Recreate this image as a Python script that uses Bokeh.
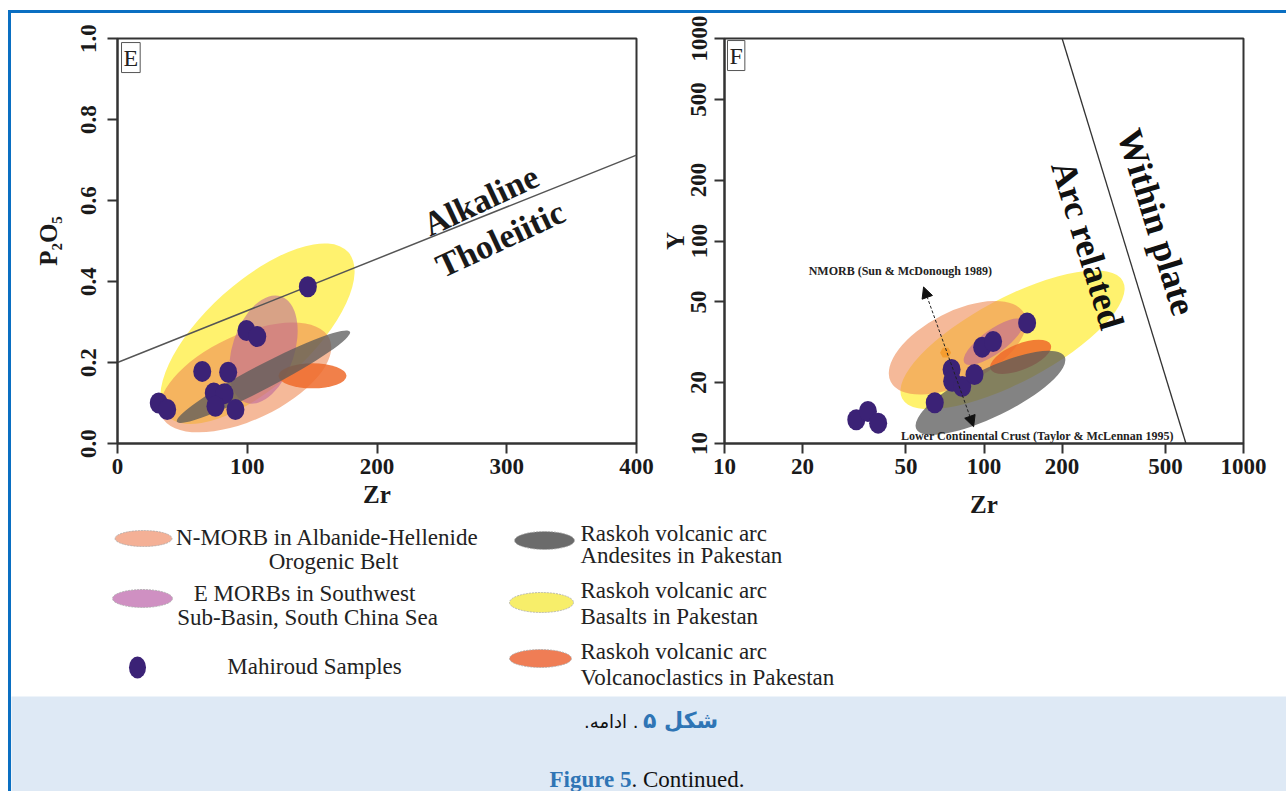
import math
from bokeh.plotting import figure
from bokeh.models import Range1d, FixedTicker, PrintfTickFormatter, Label, Arrow, NormalHead, Div
from bokeh.layouts import row, column
from bokeh.core.properties import value
from bokeh.embed import file_html
from bokeh.resources import INLINE

# ---------------- data: panel E (Zr vs P2O5) ----------------
E_zr = [31.8, 38.3, 65.3, 85.3, 74.2, 82.5, 75.5, 90.9, 99.4, 107.7, 146.7]
E_p2o5 = [0.100, 0.084, 0.178, 0.176, 0.125, 0.123, 0.092, 0.084, 0.279, 0.264, 0.387]
E_div_zr = [0, 400]
E_div_p2o5 = [0.2, 0.712]
# field centres (data) for: Basalts, N-MORB, E-MORB, Volcanoclastics, Andesites
E_field_zr = [107.9, 98.7, 112.5, 150.3, 112.5]
E_field_p2o5 = [0.271, 0.163, 0.232, 0.167, 0.165]
E_xticks = [0, 100, 200, 300, 400]
E_yticks = [0.0, 0.2, 0.4, 0.6, 0.8, 1.0]

# ---------------- data: panel F (Zr vs Y, log-log) ----------------
F_zr = [32.2, 35.7, 39.1, 64.6, 75.0, 75.4, 82.4, 91.9, 98.4, 108.4, 146.6]
F_y = [13.1, 14.4, 12.6, 15.9, 23.2, 20.3, 19.1, 21.9, 29.9, 31.9, 39.4]
F_div_zr = [200, 600]
F_div_y = [1000, 10]
F_field_zr = [128.8, 79.1, 108.9, 138.4, 105.9]
F_field_y = [32.5, 29.7, 31.8, 26.8, 17.8]
F_nmorb_zr = [71.1]
F_nmorb_y = [28.1]
F_ticks = [10, 20, 50, 100, 200, 500, 1000]

field_names = ["Raskoh volcanic arc Basalts", "N-MORB", "E MORBs", "Raskoh volcanic arc Volcanoclastics", "Raskoh volcanic arc Andesites"]

# ---------------- styles ----------------
field_colors = ["#fff05a", "#ee8a55", "#b8609a", "#ee6a2a", "#5a5a5a"]
field_alpha = [0.88, 0.6, 0.55, 0.85, 0.75]
E_field_w = [244, 185, 112, 68, 195]
E_field_h = [104, 85, 62, 25, 24]
E_field_ang = [42, 25, 72, 0, 27.5]
F_field_w = [250, 150, 72, 65, 165]
F_field_h = [84, 72, 24, 26, 48]
F_field_ang = [28, 27, 36, 22, 26]
PURPLE = "#3b2276"
SERIF = "Liberation Serif"
AXC = "#333333"


def style(p):
    p.xgrid.visible = False
    p.ygrid.visible = False
    p.outline_line_color = AXC
    p.outline_line_width = 2
    p.background_fill_color = "white"
    p.border_fill_color = "white"
    for ax in p.axis:
        ax.axis_line_color = AXC
        ax.axis_line_width = 2
        ax.major_tick_line_color = AXC
        ax.major_tick_line_width = 2
        ax.major_tick_out = 10
        ax.major_tick_in = 0
        ax.minor_tick_line_color = None
        ax.major_label_text_font = SERIF
        ax.major_label_text_font_style = "bold"
        ax.major_label_text_font_size = "23px"
        ax.major_label_text_color = "#1a1a1a"
        ax.axis_label_text_font = SERIF
        ax.axis_label_text_font_style = "bold"
        ax.axis_label_text_font_size = "25px"
        ax.axis_label_text_color = "#1a1a1a"


def draw_fields(p, xs, ys, ws, hs, angs):
    for i in range(len(xs)):
        p.ellipse(x=[xs[i]], y=[ys[i]], width=[ws[i]], height=[hs[i]],
                  angle=[math.radians(angs[i])], width_units="screen", height_units="screen",
                  fill_color=field_colors[i], fill_alpha=field_alpha[i], line_color=None)


# ---------------- panel E ----------------
pE = figure(width=646, height=507, x_range=Range1d(0, 400), y_range=Range1d(0, 1),
            output_backend="svg", toolbar_location=None,
            min_border_left=106, min_border_right=21, min_border_top=25, min_border_bottom=76)
style(pE)
pE.xaxis.ticker = FixedTicker(ticks=E_xticks)
pE.yaxis.ticker = FixedTicker(ticks=E_yticks)
pE.yaxis.formatter = PrintfTickFormatter(format="%.1f")
pE.yaxis.major_label_orientation = "vertical"
pE.xaxis.major_label_standoff = 5
pE.yaxis.major_label_standoff = 12
pE.xaxis.axis_label = "Zr"
pE.yaxis.axis_label = "P₂O₅"
pE.xaxis.axis_label_standoff = 4
pE.yaxis.axis_label_standoff = 16

draw_fields(pE, E_field_zr, E_field_p2o5, E_field_w, E_field_h, E_field_ang)
pE.line(E_div_zr, E_div_p2o5, line_color="#555555", line_width=1.5)
pE.ellipse(x=E_zr, y=E_p2o5, width=18, height=21, width_units="screen", height_units="screen",
           fill_color=PURPLE, line_color=None)
for txt, xx, yy in [("Alkaline", 280, 0.600), ("Tholeiitic", 295, 0.505)]:
    pE.text(x=[xx], y=[yy], text=[txt], angle=math.radians(25), text_align="center",
            text_baseline="middle", text_font=value(SERIF), text_font_style="bold",
            text_font_size="34px", text_color="#1a1a1a")
pE.add_layout(Label(x=3.1, y=0.99, text="E", text_align="left", text_baseline="top",
                    text_font=SERIF, text_font_size="24px", text_color="#222",
                    border_line_color="#555", border_line_width=1, padding=2,
                    background_fill_color="white"))

# ---------------- panel F ----------------
pF = figure(width=629, height=507, x_range=Range1d(10, 1000), y_range=Range1d(10, 1000),
            x_axis_type="log", y_axis_type="log",
            output_backend="svg", toolbar_location=None,
            min_border_left=67, min_border_right=43, min_border_top=25, min_border_bottom=76)
style(pF)
pF.xaxis.ticker = FixedTicker(ticks=F_ticks)
pF.yaxis.ticker = FixedTicker(ticks=F_ticks)
pF.xaxis.formatter = PrintfTickFormatter(format="%d")
pF.yaxis.formatter = PrintfTickFormatter(format="%d")
pF.yaxis.major_label_orientation = "vertical"
pF.xaxis.major_label_standoff = 5
pF.yaxis.major_label_standoff = 8
pF.xaxis.axis_label = "Zr"
pF.yaxis.axis_label = "Y"
pF.xaxis.axis_label_standoff = 14
pF.yaxis.axis_label_standoff = 0

draw_fields(pF, F_field_zr, F_field_y, F_field_w, F_field_h, F_field_ang)
pF.line(F_div_zr, F_div_y, line_color="#333333", line_width=1.3)
pF.ellipse(x=F_zr, y=F_y, width=18, height=21, width_units="screen", height_units="screen",
           fill_color=PURPLE, line_color=None)
pF.scatter(x=F_nmorb_zr, y=F_nmorb_y, marker="hex", size=11, fill_color="#f59a2a",
           fill_alpha=0.9, line_color=None)
pF.add_layout(Arrow(x_start=58.5, y_start=59.3, x_end=91.2, y_end=12.1,
                    line_dash="3 2", line_width=1, line_color="#222",
                    start=NormalHead(size=11, fill_color="#111", line_color="#111"),
                    end=NormalHead(size=11, fill_color="#111", line_color="#111")))
pF.text(x=[47.6], y=[71.1], text=["NMORB (Sun & McDonough 1989)"], text_align="center",
        text_baseline="middle", text_font=value(SERIF), text_font_style="bold",
        text_font_size="12px", text_color="#222")
pF.text(x=[160.6], y=[10.83], text=["Lower Continental Crust (Taylor & McLennan 1995)"],
        text_align="center", text_baseline="middle", text_font=value(SERIF),
        text_font_style="bold", text_font_size="12px", text_color="#222")
for txt, xx, yy in [("Within plate", 462, 124), ("Arc related", 250.6, 95.5)]:
    pF.text(x=[xx], y=[yy], text=[txt], angle=math.radians(-73), text_align="center",
            text_baseline="middle", text_font=value(SERIF), text_font_style="bold",
            text_font_size="36px", text_color="#111")
pF.add_layout(Label(x=10.27, y=977, text="F", text_align="left", text_baseline="top",
                    text_font=SERIF, text_font_size="24px", text_color="#222",
                    border_line_color="#555", border_line_width=1, padding=2,
                    background_fill_color="white"))

# ---------------- legend ----------------
LW, LH = 1275, 176
pL = figure(width=LW, height=LH, x_range=Range1d(0, LW), y_range=Range1d(LH, 0),
            x_axis_type=None, y_axis_type=None, output_backend="svg", toolbar_location=None,
            min_border=0)
pL.xgrid.visible = False
pL.ygrid.visible = False
pL.outline_line_color = None
OX, OY = 11, 520
sw_x = [143, 142, 544, 541, 540]
sw_y = [538, 598, 540, 602, 658]
sw_w = [57, 60, 60, 64, 62]
sw_h = [16, 18, 18, 20, 18]
sw_c = ["#f4b096", "#cf90c2", "#6b6b6b", "#f7ee6a", "#ef7d55"]
pL.ellipse(x=[v - OX for v in sw_x], y=[v - OY for v in sw_y], width=sw_w, height=sw_h,
           fill_color=sw_c, line_color="#aaaaaa", line_width=0.8, line_dash="2 1")
pL.ellipse(x=[137 - OX], y=[667 - OY], width=17, height=22, fill_color=PURPLE, line_color=None)
c1_text = ["N-MORB in Albanide-Hellenide", "Orogenic Belt", "E MORBs in Southwest",
           "Sub-Basin, South China Sea", "Mahiroud Samples"]
c1_x = [327, 333, 304, 307, 314]
c1_y = [537, 561, 593, 617, 666]
pL.text(x=[v - OX for v in c1_x], y=[v - OY for v in c1_y], text=c1_text, text_align="center",
        text_baseline="middle", text_font=value(SERIF), text_font_size="23px", text_color="#222")
c2_text = ["Raskoh volcanic arc", "Andesites in Pakestan", "Raskoh volcanic arc",
           "Basalts in Pakestan", "Raskoh volcanic arc", "Volcanoclastics in Pakestan"]
c2_y = [533, 555, 590, 616, 651, 677]
pL.text(x=[580 - OX] * 6, y=[v - OY for v in c2_y], text=c2_text, text_align="left",
        text_baseline="middle", text_font=value(SERIF), text_font_size="23px", text_color="#222")

# ---------------- caption ----------------
CW, CH = 1275, 95
CBG = "#dee9f5"
BLUE = "#2f75b5"
pC = figure(width=CW, height=CH, x_range=Range1d(0, CW), y_range=Range1d(CH, 0),
            x_axis_type=None, y_axis_type=None, output_backend="svg", toolbar_location=None,
            min_border=0, background_fill_color=CBG, border_fill_color=CBG)
pC.xgrid.visible = False
pC.ygrid.visible = False
pC.outline_line_color = None
CY0 = 696
pC.text(x=[680 - OX], y=[720 - CY0], text=["شکل ۵"], text_align="center", text_baseline="middle",
        text_font=value("DejaVu Sans"), text_font_style="bold", text_font_size="22px", text_color=BLUE)
pC.text(x=[638 - OX], y=[721 - CY0], text=[".ادامه ."], text_align="right", text_baseline="middle",
        text_font=value("DejaVu Sans"), text_font_size="18px", text_color="#111")
pC.text(x=[631 - OX], y=[779 - CY0], text=["Figure 5"], text_align="right", text_baseline="middle",
        text_font=value(SERIF), text_font_style="bold", text_font_size="23px", text_color=BLUE)
pC.text(x=[631 - OX], y=[779 - CY0], text=[". Continued."], text_align="left", text_baseline="middle",
        text_font=value(SERIF), text_font_size="23px", text_color="#111")

# ---------------- page frame ----------------
FRAME = "#0a6fc2"
top_bar = Div(text="", width=1278, height=3, margin=(10, 0, 0, 8), styles={"background-color": FRAME})
left_bar = Div(text="", width=3, height=778, margin=(0, 0, 0, 8), styles={"background-color": FRAME})

root = column(top_bar, row(left_bar, column(row(pE, pF), pL, pC)))
open("out.html", "w").write(file_html(root, INLINE))
